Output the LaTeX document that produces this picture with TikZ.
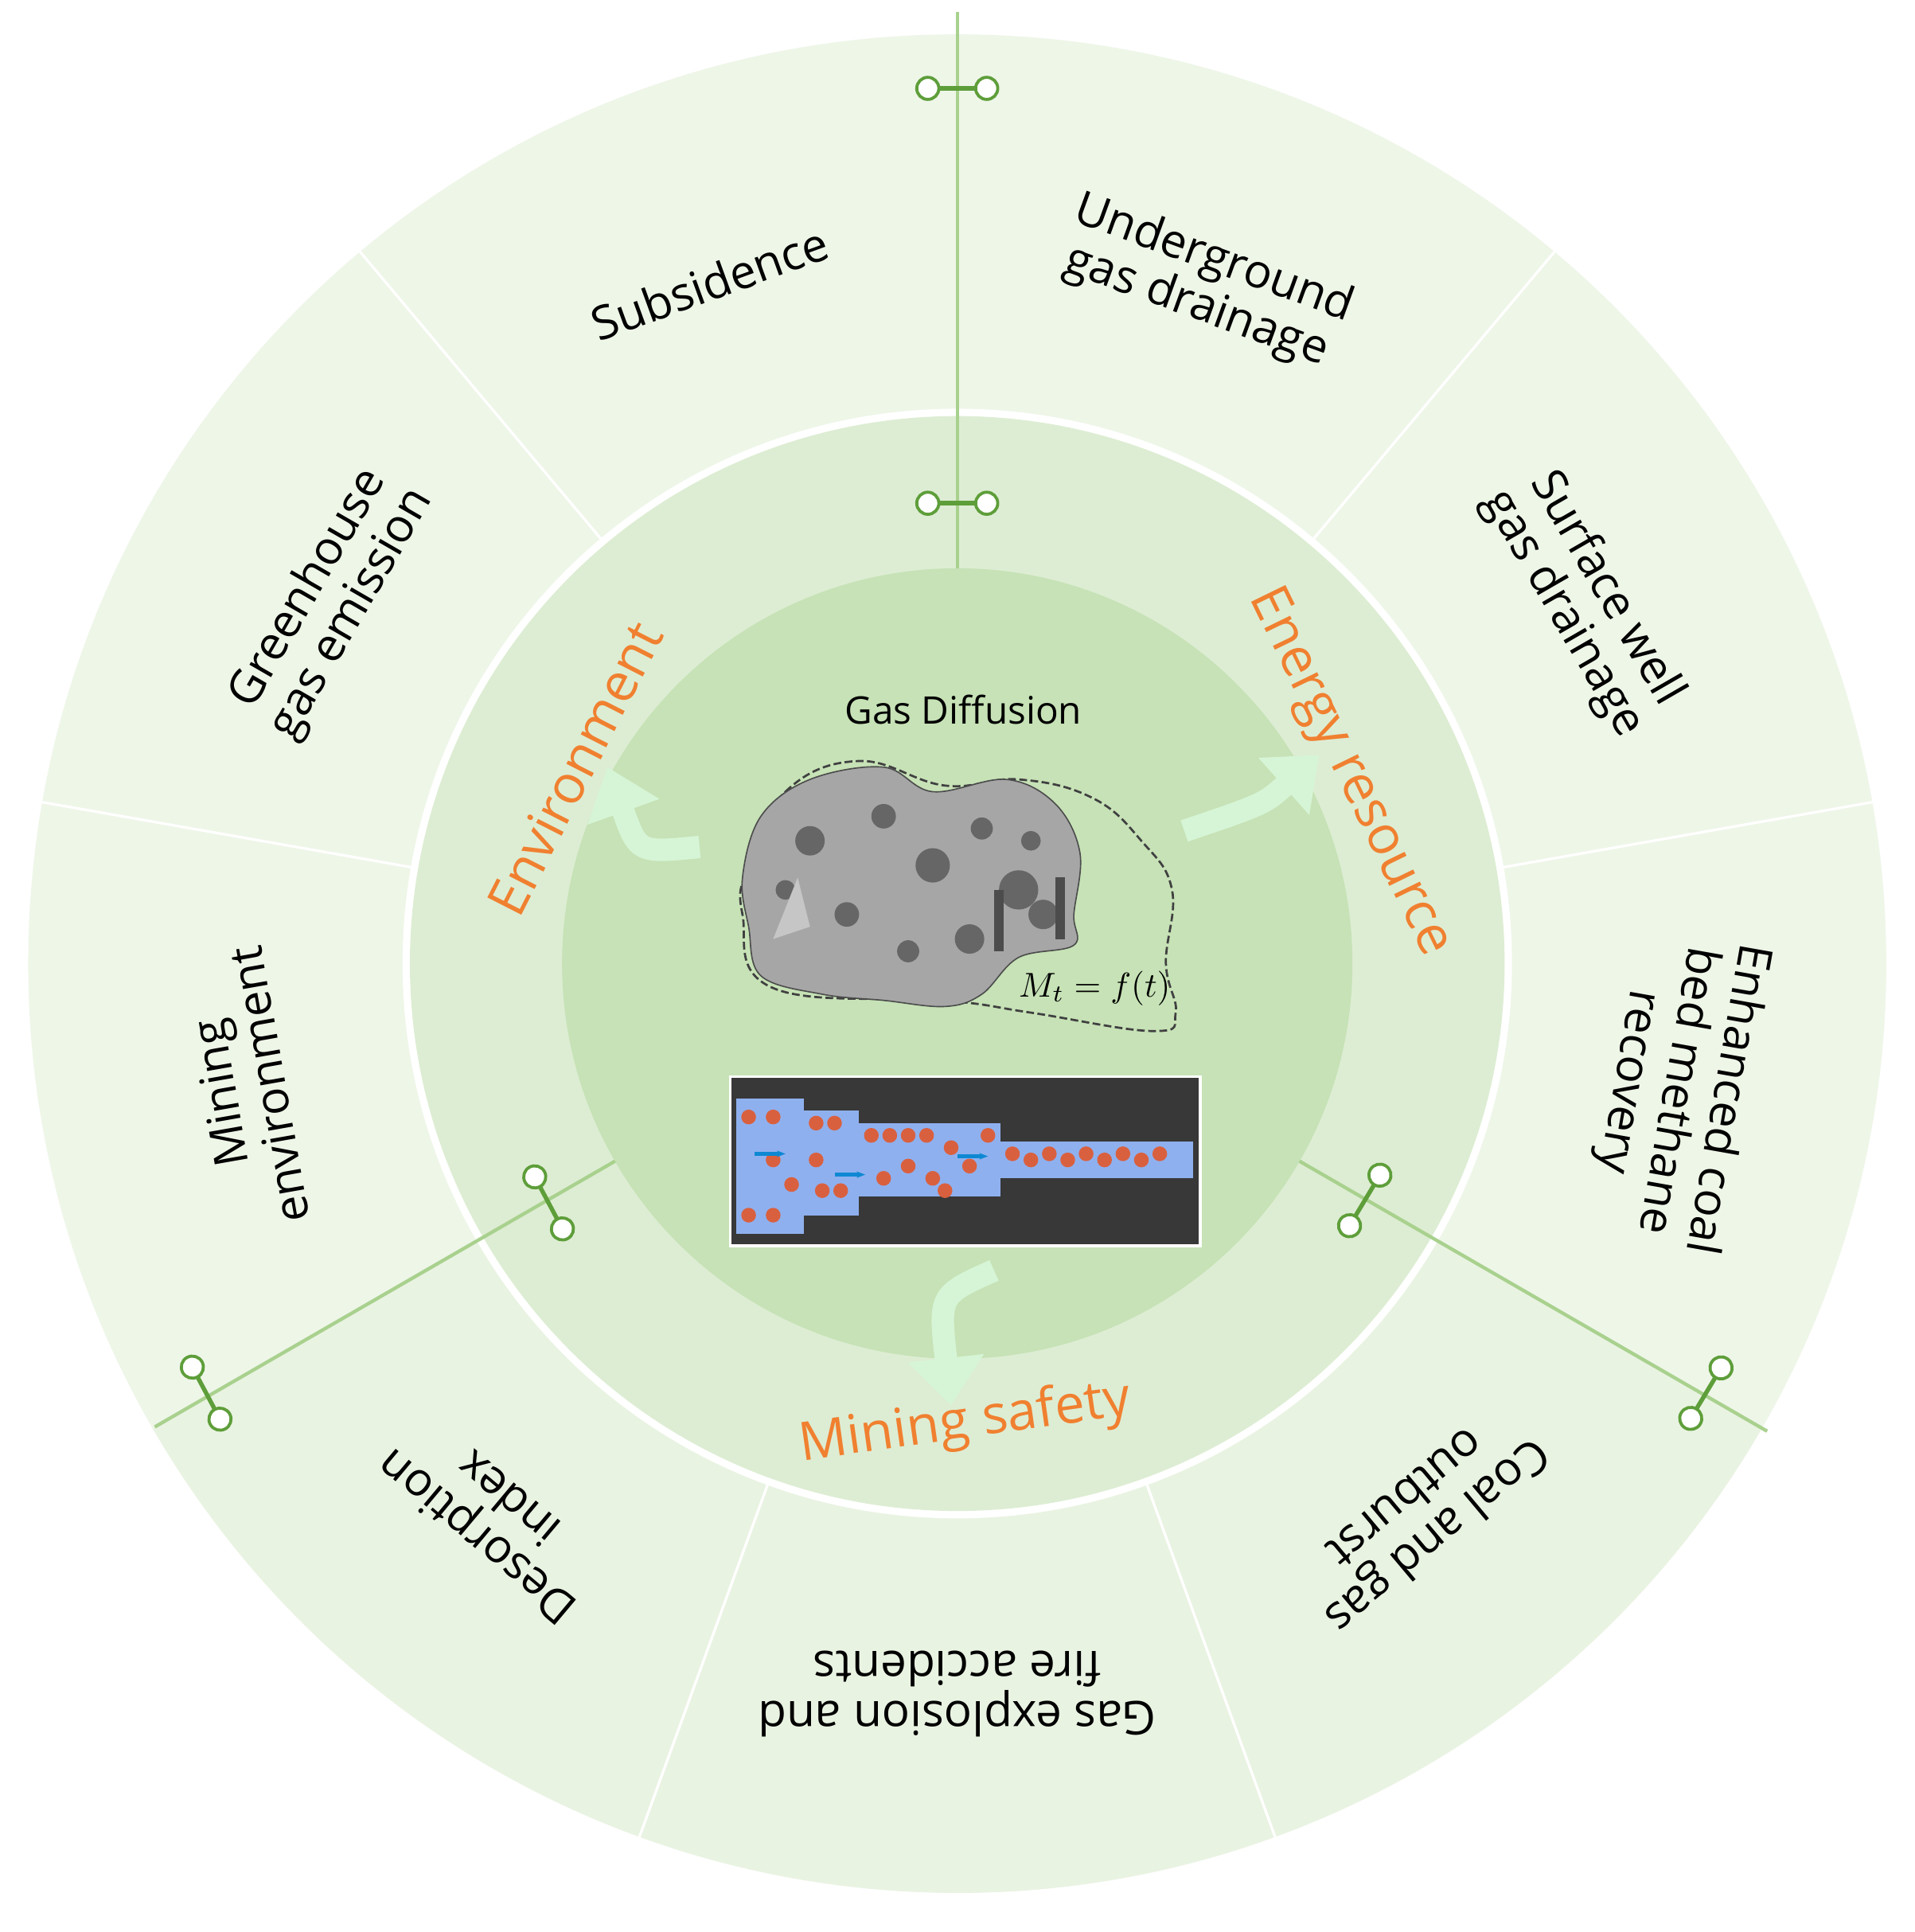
\documentclass[tikz,border=0pt]{standalone}
\usepackage{fontspec}
\usepackage{graphicx}
\setmainfont{Open Sans}
\usetikzlibrary{arrows.meta}
\definecolor{outerc}{HTML}{EEF6E8}
\definecolor{outerl}{HTML}{E9F3E2}
\definecolor{midc}{HTML}{DDEDD3}
\definecolor{innc}{HTML}{C6E2B6}
\definecolor{gline}{HTML}{A9D18E}
\definecolor{dgreen}{HTML}{5E9E3A}
\definecolor{orng}{HTML}{F08030}
\definecolor{arrc}{HTML}{D6F5D6}
\definecolor{chan}{HTML}{8FB0EE}
\definecolor{dotc}{HTML}{D9603F}
\begin{document}
\begin{tikzpicture}[x=0.05cm,y=0.05cm,
  lab/.style={font=\fontsize{54}{58}\selectfont, align=center, text=black},
  olab/.style={font=\fontsize{62}{70}\selectfont, text=orng},
  sep/.style={white, line width=3},
  gl/.style={gline, line width=4},
  garr/.style={arrc, line width=26, -{Triangle[length=55,width=85]}}]
\useasboundingbox (-780,-789) rectangle (780,785);
\fill[white] (-780,-789) rectangle (780,785);
% rings
\fill[outerc] (0,0) circle (757);
\fill[outerl] (0,0) -- (210:757) arc (210:330:757) -- cycle;
\fill[white] (0,0) circle (452);
\fill[midc] (0,0) circle (446);
\fill[innc] (0,0) circle (322);
% sector separators
\foreach \a in {10,50,130,170,250,290} \draw[sep] (\a:450) -- (\a:760);
% green lines
\coordinate (t1) at (90:322); \coordinate (t2) at (90:775);
\coordinate (l1) at (210:322); \coordinate (l2) at (210:755);
\coordinate (r1) at (330:322); \coordinate (r2) at (330:762);
\draw[gl] (t1) -- (t2); \draw[gl] (l1) -- (l2); \draw[gl] (r1) -- (r2);
% dumbbells
\foreach \px/\py/\r in {0/713/0, 0/375/0, -333/-195/118, -612/-350/118, 332/-193/59, 610/-350/59}{
  \begin{scope}[shift={(\px,\py)}, rotate=\r]
    \draw[dgreen, line width=5] (-22,0) -- (22,0);
    \draw[dgreen, line width=3.5, fill=white] (-24,0) circle (9) (24,0) circle (9);
  \end{scope}}
% outer labels
\node[lab, rotate=20] (sub) at (110:590) {Subsidence};
\node[lab, rotate=-20] (und) at (70:590) {Underground\\gas drainage};
\node[lab, rotate=-60] (sur) at (30:590) {Surface well\\gas drainage};
\node[lab, rotate=-100] (enh) at (350:595) {Enhanced coal\\bed methane\\recovery};
\node[lab, rotate=60] (gre) at (150:590) {Greenhouse\\gas emission};
\node[lab, rotate=100] (min) at (190:590) {Mining\\environment};
\node[lab, rotate=140] (des) at (230:590) {Desorption\\index};
\node[lab, rotate=180] (gas) at (270:595) {Gas explosion and\\fire accidents};
\node[lab, rotate=220] (coa) at (310:590) {Coal and gas\\outburst};
% middle labels
\node[olab, rotate=63] (env) at (153:350) {Environment};
\node[olab, rotate=-64] (ene) at (26:355) {Energy resource};
\node[olab, rotate=8] (ms) at (271:375) {Mining safety};
% center
\node[font=\fontsize{44}{50}\selectfont] (gd) at (5,207) {Gas Diffusion};
% dashed outline
\draw[dash pattern=on 9pt off 4pt, line width=2.5, black!75] plot[smooth cycle, tension=0.7] coordinates {
 (-170,80) (-140,140) (-80,165) (-10,145) (50,150) (110,135) (150,100) (175,60) (170,0) (178,-40) (160,-55) (60,-40) (-10,-30) (-150,-20) (-175,40)};
% rock
\fill[gray!70, draw=black!70, line width=1.5] plot[smooth cycle, tension=0.6] coordinates {
 (-175,70) (-160,120) (-120,150) (-60,160) (-20,140) (40,150) (80,130) (100,90) (95,40) (95,15) (50,5) (20,-25) (-10,-35) (-60,-30) (-110,-25) (-160,-10) (-170,30)};
\foreach \x/\y/\r in {-120/100/12,-60/120/10,-20/80/14,20/110/9,50/60/16,-90/40/10,10/20/12,70/40/12,-140/60/8,-40/10/9,60/100/8}
  \fill[black!60] (\x,\y) circle (\r);
\fill[gray!45] (-150,20) -- (-130,70) -- (-120,30) -- cycle;
\fill[black!70] (30,10) rectangle (38,60);
\fill[black!70] (80,20) rectangle (88,70);
\node (mt) at (112,-20) {\scalebox{4}{$M_t = f(t)$}};
% simulation picture
\fill[black!78, draw=white, line width=3] (-185,-92) rectangle (198,-230);
\fill[chan] (-180,-110) rectangle (-125,-220);
\fill[chan] (-125,-120) rectangle (-80,-205);
\fill[chan] (-80,-130) rectangle (35,-190);
\fill[chan] (35,-145) rectangle (192,-175);
\foreach \x/\y in {-170/-125,-150/-125,-170/-205,-150/-205,-135/-180,-115/-130,-100/-130,-110/-185,-95/-185,-70/-140,-55/-140,-40/-140,-25/-140,-60/-175,-40/-165,-20/-175,-5/-150,10/-165,25/-140,45/-155,60/-160,75/-155,90/-160,105/-155,120/-160,135/-155,150/-160,165/-155,-150/-160,-115/-160,-10/-185}
  \fill[dotc] (\x,\y) circle (6);
\foreach \x/\y in {-165/-155,-100/-172,0/-157}
  \draw[cyan!70!blue, line width=4, -{Stealth[length=10]}] (\x,\y) -- ++(25,0);
% arrows
\coordinate (a1s) at (-210,95); \coordinate (a1e) at (-285,160);
\coordinate (a2s) at (185,108); \coordinate (a2e) at (295,170);
\coordinate (a3s) at (30,-250); \coordinate (a3e) at (-5,-360);
\draw[garr] (a1s) .. controls (-260,90) .. (a1e);
\draw[garr] (a2s) .. controls (250,130) .. (a2e);
\draw[garr] (a3s) .. controls (-15,-270) .. (a3e);
\end{tikzpicture}
\end{document}
